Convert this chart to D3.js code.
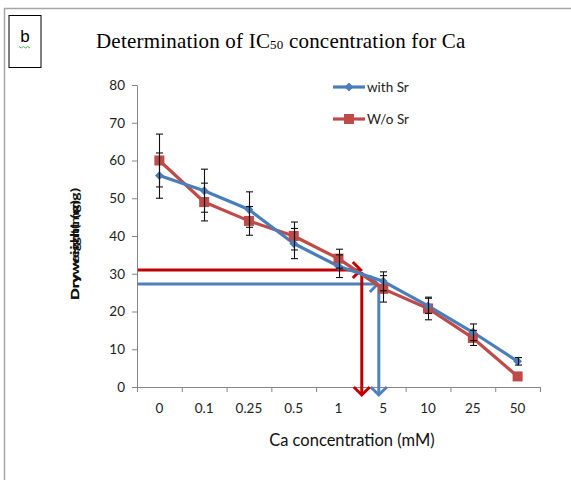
<!DOCTYPE html>
<html>
<head>
<meta charset="utf-8">
<script src="https://cdn.jsdelivr.net/npm/d3@7"></script>
<style>
  body { margin: 0; background: #fff; }
  svg { display: block; }
</style>
</head>
<body>
<svg id="chart" width="571" height="480"></svg>
<script>
// Ca concentration categories (mM)
const categories = ["0", "0.1", "0.25", "0.5", "1", "5", "10", "25", "50"];
// Dry weight (mg) with Sr and without Sr
const withSr = [56, 52, 47, 38, 32, 28, 21.5, 14.5, 6.8];
const withSrErr = [6, 5.7, 4.7, 4, 3, 2.5, 2, 2.2, 1];
const woSr = [60, 49, 44, 40, 34, 26, 20.8, 13, 2.8];
const woSrErr = [7, 5, 3.8, 3.7, 2.5, 3.5, 3, 2, 0];
const yTicks = [0, 10, 20, 30, 40, 50, 60, 70, 80];
// IC50 read-off: dry weight level and position along the category axis (index units)
const ic50Level = { withSr: 27.3, woSr: 31 };
const ic50Index = { withSr: 4.9, woSr: 4.52 };

const BLUE = "#4a7ebb", RED = "#be4b48";
const ARROW_BLUE = "#4f81bd", ARROW_RED = "#c00000";
const AXIS = "#868686";
const FONT = "Lato, 'Open Sans', sans-serif";

const svg = d3.select("#chart");

// outer frame lines
svg.append("line").attr("x1", 4).attr("x2", 571).attr("y1", 8.5).attr("y2", 8.5)
  .attr("stroke", "#a6a6a6").attr("stroke-width", 1.5);
svg.append("line").attr("x1", 4.5).attr("x2", 4.5).attr("y1", 8).attr("y2", 480)
  .attr("stroke", "#a6a6a6").attr("stroke-width", 1.5);

// panel label box
svg.append("rect").attr("x", 9).attr("y", 15.5).attr("width", 32).attr("height", 52)
  .attr("fill", "#fff").attr("stroke", "#000").attr("stroke-width", 1);
svg.append("text").attr("x", 25).attr("y", 42).attr("text-anchor", "middle")
  .attr("font-family", "'Liberation Sans', Arial, sans-serif").attr("font-size", 17).text("b");
svg.append("path")
  .attr("d", d3.range(0, 6).map((i) => (i === 0 ? "M" : "L") + (19 + i * 2.2) + "," + (i % 2 ? 48 : 46.5)).join(""))
  .attr("fill", "none").attr("stroke", "#2f9f2f").attr("stroke-width", 0.8);

// title
const title = svg.append("text").attr("x", 96).attr("y", 48)
  .attr("font-family", "'Liberation Serif', 'Times New Roman', serif")
  .attr("font-size", 21).attr("fill", "#000").attr("letter-spacing", 0.2);
title.append("tspan").text("Determination of IC");
title.append("tspan").attr("font-size", 13).attr("dy", 1).text("50");
title.append("tspan").attr("dy", -1).text(" concentration for Ca");

// scales
const margin = { left: 137, right: 540, top: 85, bottom: 387 };
const x = d3.scaleBand().domain(categories).range([margin.left, margin.right]).padding(0);
const xi = d3.scaleLinear().domain([-0.5, categories.length - 0.5]).range([margin.left, margin.right]);
const y = d3.scaleLinear().domain([0, 80]).range([margin.bottom, margin.top]);
const cx = (i) => x(categories[i]) + x.bandwidth() / 2;

// y axis
const yAxis = svg.append("g").attr("transform", `translate(${margin.left},0)`)
  .call(d3.axisLeft(y).tickValues(yTicks).tickSize(5).tickSizeOuter(0).tickPadding(7));
yAxis.select(".domain").attr("stroke", AXIS);
yAxis.selectAll(".tick line").attr("stroke", AXIS);
yAxis.selectAll(".tick text").attr("font-family", FONT).attr("font-size", 13.5).attr("fill", "#222");

// x axis with ticks on category boundaries
svg.append("line").attr("x1", margin.left).attr("x2", margin.right)
  .attr("y1", y(0) + 0.5).attr("y2", y(0) + 0.5).attr("stroke", AXIS);
svg.append("g").selectAll("line").data(d3.range(categories.length + 1)).join("line")
  .attr("x1", (i) => xi(i - 0.5) + 0.5).attr("x2", (i) => xi(i - 0.5) + 0.5)
  .attr("y1", y(0)).attr("y2", y(0) + 5).attr("stroke", AXIS);
svg.append("g").selectAll("text").data(categories).join("text")
  .attr("x", (d, i) => cx(i)).attr("y", y(0) + 26).attr("text-anchor", "middle")
  .attr("font-family", FONT).attr("font-size", 13.5).attr("fill", "#222").text((d) => d);

// axis titles
svg.append("text").attr("x", xi(4.3)).attr("y", 446).attr("text-anchor", "middle")
  .attr("font-family", FONT).attr("font-size", 16.5).attr("fill", "#111").text("Ca concentration (mM)");
[["Dry weight (mg)", 112], ["Dryweight(mg)", 100]].forEach(([t, len]) => {
  svg.append("text").attr("transform", `translate(79,300) rotate(-90)`)
    .attr("text-anchor", "start").attr("font-family", FONT).attr("font-weight", "bold")
    .attr("font-size", 11.5).attr("fill", "#111")
    .attr("textLength", len).attr("lengthAdjust", "spacingAndGlyphs").text(t);
});

// IC50 guide arrows
function arrowHead(px, py, dir, color) {
  const s = 8;
  const pts = dir === "right"
    ? [[px - s, py - s], [px, py], [px - s, py + s]]
    : [[px - s, py - s], [px, py], [px + s, py - s]];
  svg.append("path").attr("d", d3.line()(pts)).attr("fill", "none")
    .attr("stroke", color).attr("stroke-width", 3).attr("stroke-linejoin", "miter");
}
function guide(level, idx, color) {
  const gx = xi(idx), gy = y(level);
  svg.append("line").attr("x1", margin.left + 1).attr("x2", gx - 1).attr("y1", gy).attr("y2", gy)
    .attr("stroke", color).attr("stroke-width", 3);
  arrowHead(gx - 1, gy, "right", color);
  svg.append("line").attr("x1", gx).attr("x2", gx).attr("y1", gy + 2).attr("y2", y(0) + 7)
    .attr("stroke", color).attr("stroke-width", 3);
  arrowHead(gx, y(0) + 8, "down", color);
}
guide(ic50Level.withSr, ic50Index.withSr, ARROW_BLUE);
guide(ic50Level.woSr, ic50Index.woSr, ARROW_RED);

// series
const series = [
  { name: "with Sr", values: withSr, err: withSrErr, color: BLUE, marker: "diamond" },
  { name: "W/o Sr", values: woSr, err: woSrErr, color: RED, marker: "square" }
];
const line = d3.line().x((d, i) => cx(i)).y((d) => y(d));

function drawMarker(g, mx, my, s) {
  if (s.marker === "square") {
    g.append("rect").attr("x", mx - 5).attr("y", my - 5).attr("width", 10).attr("height", 10).attr("fill", s.color);
  } else {
    g.append("path").attr("d", d3.symbol(d3.symbolDiamond2, 50)()).attr("transform", `translate(${mx},${my})`)
      .attr("fill", s.color);
  }
}

// lines underneath, then markers and error bars
series.slice().reverse().forEach((s) => {
  svg.append("path").datum(s.values).attr("d", line).attr("fill", "none")
    .attr("stroke", s.color).attr("stroke-width", 3.2).attr("stroke-linejoin", "round");
});
series.slice().reverse().forEach((s) => {
  const g = svg.append("g");
  s.values.forEach((v, i) => drawMarker(g, cx(i), y(v), s));
});
series.forEach((s) => {
  const g = svg.append("g").attr("stroke", "#111").attr("stroke-width", 1.1);
  s.values.forEach((v, i) => {
    const e = s.err[i];
    if (!e) return;
    const px = Math.round(cx(i)) + 0.5;
    g.append("line").attr("x1", px).attr("x2", px).attr("y1", y(v + e)).attr("y2", y(v - e));
    [v + e, v - e].forEach((c) => {
      g.append("line").attr("x1", px - 3.5).attr("x2", px + 3.5).attr("y1", y(c)).attr("y2", y(c));
    });
  });
});

// legend
const legend = svg.append("g");
series.forEach((s, k) => {
  const ly = 87 + k * 32;
  legend.append("line").attr("x1", 333).attr("x2", 365).attr("y1", ly).attr("y2", ly)
    .attr("stroke", s.color).attr("stroke-width", 3.2);
  drawMarker(legend, 349, ly, s);
  legend.append("text").attr("x", 367).attr("y", ly + 5)
    .attr("font-family", FONT).attr("font-size", 13.5).attr("fill", "#222").text(s.name);
});
</script>
</body>
</html>
